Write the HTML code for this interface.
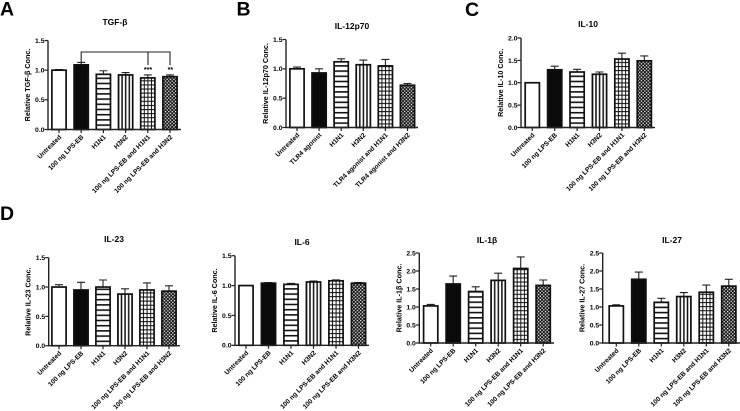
<!DOCTYPE html>
<html>
<head>
<meta charset="utf-8">
<title>Cytokine bar charts</title>
<style>
html,body{margin:0;padding:0;background:#fff;}
svg{display:block;filter:blur(0.3px);}
text{font-family:"Liberation Sans",Arial,sans-serif;fill:#000;}
</style>
</head>
<body>
<svg id="figure" xmlns="http://www.w3.org/2000/svg" width="740" height="411" viewBox="0 0 740 411">
<defs id="defs">
<pattern id="p-h" patternUnits="userSpaceOnUse" width="4" height="5.2"><rect width="4" height="5.2" fill="#fff"/><rect width="4" height="1.6" fill="#111"/></pattern>
<pattern id="p-v" patternUnits="userSpaceOnUse" width="3.6" height="4"><rect width="3.6" height="4" fill="#fff"/><rect x="-0.75" width="1.5" height="4" fill="#111"/><rect x="2.85" width="1.5" height="4" fill="#111"/></pattern>
<pattern id="p-g" patternUnits="userSpaceOnUse" width="3.6" height="4.1"><rect width="3.6" height="4.1" fill="#fff"/><rect width="3.6" height="1.05" fill="#111"/><rect x="-0.5" width="1" height="4.1" fill="#111"/><rect x="3.1" width="1" height="4.1" fill="#111"/></pattern>
<pattern id="p-c" patternUnits="userSpaceOnUse" width="3.4" height="3.4"><rect width="3.4" height="3.4" fill="#111"/><rect x="0.2" y="0.2" width="1.3" height="1.3" fill="#fff"/><rect x="1.9" y="1.9" width="1.3" height="1.3" fill="#fff"/></pattern>
</defs>
</svg>
<script>
var lpsCategories = ["Untreated","100 ng LPS-EB","H1N1","H3N2","100 ng LPS-EB and H1N1","100 ng LPS-EB and H3N2"];
var tlrCategories = ["Untreated","TLR4 agonist","H1N1","H3N2","TLR4 agonist and H1N1","TLR4 agonist and H3N2"];

var tgfValues = [1.00,1.09,0.93,0.92,0.87,0.89];
var tgfErrors = [0.01,0.04,0.06,0.04,0.05,0.03];
var il12Values = [1.00,0.93,1.12,1.07,1.05,0.72];
var il12Errors = [0.03,0.07,0.05,0.08,0.11,0.03];
var il10Values = [1.00,1.29,1.24,1.19,1.53,1.49];
var il10Errors = [0.00,0.08,0.06,0.05,0.13,0.11];
var il23Values = [1.00,0.95,1.00,0.88,0.95,0.93];
var il23Errors = [0.04,0.13,0.12,0.09,0.12,0.09];
var il6Values = [1.00,1.04,1.02,1.06,1.08,1.04];
var il6Errors = [0.00,0.01,0.015,0.015,0.015,0.01];
var il1Values = [1.03,1.64,1.43,1.74,2.07,1.60];
var il1Errors = [0.04,0.22,0.13,0.20,0.32,0.15];
var il27Values = [1.03,1.77,1.13,1.29,1.41,1.58];
var il27Errors = [0.03,0.20,0.11,0.11,0.20,0.19];

var ticks15 = [0,0.5,1.0,1.5];
var ticks20 = [0,0.5,1.0,1.5,2.0];
var ticks25 = [0,0.5,1.0,1.5,2.0,2.5];

var NS = "http://www.w3.org/2000/svg";
var svg = document.getElementById("figure");
var defs = document.getElementById("defs");
var patternIds = [null,null,"p-h","p-v","p-g","p-c"];
var plainFills = ["#fff","#0a0a0a"];
var patternCount = 0;
var BAR_W = 14.2;

function make(parent, tag, attrs, txt) {
  var e = document.createElementNS(NS, tag);
  for (var k in attrs) e.setAttribute(k, attrs[k]);
  if (txt !== undefined) e.textContent = txt;
  parent.appendChild(e);
  return e;
}

function slug(s) {
  return s.toLowerCase().replace(/[^a-z0-9]+/g, "-").replace(/^-|-$/g, "");
}

function barFill(i, left, base) {
  if (!patternIds[i]) return plainFills[i];
  var clone = document.getElementById(patternIds[i]).cloneNode(true);
  var id = "fill-" + (patternCount++);
  clone.setAttribute("id", id);
  clone.setAttribute("x", left);
  clone.setAttribute("y", base);
  defs.appendChild(clone);
  return "url(#" + id + ")";
}

function drawChart(c) {
  var g = make(svg, "g", {});
  
  

  var yMax = c.ticks[c.ticks.length - 1];
  var yScale = function (v) { return c.y0 - (v / yMax) * (c.y0 - c.yTop); };
  var xScale = function (i) { return c.cx + i * c.step; };

  var title = make(g, "text", {x: c.titleX, y: c.titleY, "text-anchor": "middle", "font-size": 8.5, "font-weight": "bold"}, c.title);
  
  

  var yTitle = make(g, "text", {transform: "translate(" + (c.x0 - 18) + "," + ((c.y0 + c.yTop) / 2) + ") rotate(-90)", "text-anchor": "middle", "font-size": 7.2, "font-weight": "bold"}, c.yLabel);
  
  

  c.values.forEach(function (v, i) {
    var x = xScale(i), top = yScale(v), errTop = yScale(v + c.errors[i]);
    if (c.errors[i] > 0) {
      var err = make(g, "path", {d: "M" + x + " " + top + "V" + errTop + "M" + (x - 4) + " " + errTop + "H" + (x + 4), stroke: "#222", "stroke-width": 1.1, fill: "none"});
      
      
    }
    var left = x - BAR_W / 2;
    var bar = make(g, "rect", {x: left, y: top, width: BAR_W, height: c.y0 - top, fill: barFill(i, left, c.y0), stroke: "#111", "stroke-width": 1.7});
    
    

    var tick = make(g, "line", {x1: x, x2: x, y1: c.y0, y2: c.y0 + 3.5, stroke: "#222", "stroke-width": 1.2});
    
    

    var lab = make(g, "text", {transform: "translate(" + (x + 2.8) + "," + (c.y0 + 8) + ") rotate(-45)", "text-anchor": "end", "font-size": 6.6, "font-weight": "bold"}, c.categories[i]);
    
    
  });

  var axes = make(g, "path", {d: "M" + c.x0 + " " + c.yTop + "V" + c.y0 + "H" + c.xEnd, stroke: "#222", "stroke-width": 1.4, fill: "none"});
  
  

  c.ticks.forEach(function (t) {
    var y = yScale(t);
    var tk = make(g, "line", {x1: c.x0 - 3.5, x2: c.x0, y1: y, y2: y, stroke: "#222", "stroke-width": 1.2});
    
    
    var tl = make(g, "text", {x: c.x0 - 3.5, y: y + 2.4, "text-anchor": "end", "font-size": 6.8, "font-weight": "bold"}, t.toFixed(1));
    
    
  });
  return {g: g, xScale: xScale, yScale: yScale};
}

var chartA = drawChart({title:"TGF-β", titleX:115, titleY:25, yLabel:"Relative TGF-β Conc.", categories:lpsCategories, values:tgfValues, errors:tgfErrors, ticks:ticks15, x0:48, xEnd:181, y0:129.5, yTop:40.5, cx:59, step:22.2});
drawChart({title:"IL-12p70", titleX:352, titleY:29, yLabel:"Relative IL-12p70 Conc.", categories:tlrCategories, values:il12Values, errors:il12Errors, ticks:ticks15, x0:286, xEnd:418, y0:127.5, yTop:39.5, cx:297, step:22.1});
drawChart({title:"IL-10", titleX:588, titleY:27, yLabel:"Relative IL-10 Conc.", categories:lpsCategories, values:il10Values, errors:il10Errors, ticks:ticks20, x0:521, xEnd:655, y0:127.5, yTop:38, cx:532.3, step:22.4});
drawChart({title:"IL-23", titleX:114, titleY:242, yLabel:"Relative IL-23 Conc.", categories:lpsCategories, values:il23Values, errors:il23Errors, ticks:ticks15, x0:48.7, xEnd:180, y0:345.7, yTop:257.7, cx:59, step:22});
drawChart({title:"IL-6", titleX:302, titleY:245, yLabel:"Relative IL-6 Conc.", categories:lpsCategories, values:il6Values, errors:il6Errors, ticks:ticks15, x0:235, xEnd:369, y0:345.3, yTop:255.7, cx:246, step:22.5});
drawChart({title:"IL-1β", titleX:487, titleY:243, yLabel:"Relative IL-1β Conc.", categories:lpsCategories, values:il1Values, errors:il1Errors, ticks:ticks25, x0:419.3, xEnd:554, y0:343, yTop:253, cx:430.7, step:22.5});
drawChart({title:"IL-27", titleX:672, titleY:243, yLabel:"Relative IL-27 Conc.", categories:lpsCategories, values:il27Values, errors:il27Errors, ticks:ticks25, x0:602.7, xEnd:740, y0:343, yTop:253, cx:616.3, step:22.5});

var bracket = make(chartA.g, "path", {d: "M81.2 62V52H170V65M148 52V65", stroke: "#222", "stroke-width": 1.1, fill: "none"});



var stars3 = make(chartA.g, "text", {x: 148, y: 72, "text-anchor": "middle", "font-size": 7, "font-weight": "bold"}, "***");



var stars2 = make(chartA.g, "text", {x: 170.4, y: 72, "text-anchor": "middle", "font-size": 7, "font-weight": "bold"}, "**");



var letterA = make(svg, "text", {x: 0, y: 15.7, "font-size": 19.5, "font-weight": "bold"}, "A");



var letterB = make(svg, "text", {x: 236.5, y: 15.7, "font-size": 19.5, "font-weight": "bold"}, "B");



var letterC = make(svg, "text", {x: 465, y: 16, "font-size": 19.5, "font-weight": "bold"}, "C");



var letterD = make(svg, "text", {x: 0, y: 220, "font-size": 19.5, "font-weight": "bold"}, "D");


</script>
</body>
</html>
